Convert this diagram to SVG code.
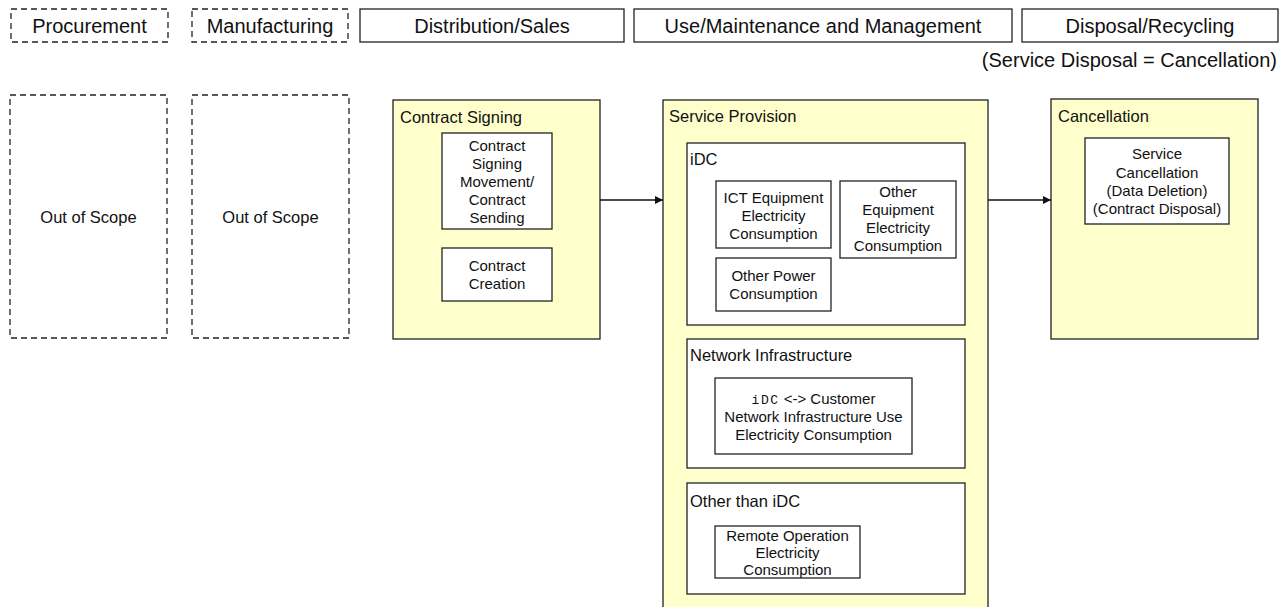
<svg xmlns="http://www.w3.org/2000/svg" width="1280" height="607" viewBox="0 0 1280 607">
  <style>
    text { font-family: "Liberation Sans", Arial, sans-serif; fill: #111; }
    .hdr { font-size: 20px; text-anchor: middle; }
    .lbl { font-size: 16.5px; }
    .oos { font-size: 16.5px; text-anchor: middle; }
    .in { font-size: 15px; text-anchor: middle; }
    .mono { font-family: "Liberation Mono", "DejaVu Sans Mono", monospace; font-size: 13px; letter-spacing: 1.5px; }
    .dash { fill: #fff; stroke: #222; stroke-width: 1.3; stroke-dasharray: 6 4; }
    .box { fill: #fff; stroke: #222; stroke-width: 1.3; }
    .stage { fill: #ffffcc; stroke: #222; stroke-width: 1.3; }
    .conn { stroke: #111; stroke-width: 1.3; fill: none; marker-end: url(#arrow); }
  </style>
  <defs>
    <marker id="arrow" viewBox="0 0 10 10" refX="10" refY="5" markerWidth="8" markerHeight="8" markerUnits="userSpaceOnUse" orient="auto">
      <path d="M0,0 L10,5 L0,10 z" fill="#111"/>
    </marker>
  </defs>
  <rect width="1280" height="607" fill="#fff"/>

  <!-- Life-cycle stage headers -->
  <g id="hdr-procurement">
    <rect class="dash" x="11" y="9" width="157" height="33"/>
    <text class="hdr" x="89.5" y="33">Procurement</text>
  </g>
  <g id="hdr-manufacturing">
    <rect class="dash" x="192" y="9" width="156" height="33"/>
    <text class="hdr" x="270" y="33">Manufacturing</text>
  </g>
  <g id="hdr-distribution">
    <rect class="box" x="360" y="9" width="264" height="33"/>
    <text class="hdr" x="492" y="33">Distribution/Sales</text>
  </g>
  <g id="hdr-use">
    <rect class="box" x="634" y="9" width="378" height="33"/>
    <text class="hdr" x="823" y="33">Use/Maintenance and Management</text>
  </g>
  <g id="hdr-disposal">
    <rect class="box" x="1022" y="9" width="256" height="33"/>
    <text class="hdr" x="1150" y="33">Disposal/Recycling</text>
  </g>
  <text class="hdr" x="1277" y="67" style="text-anchor:end">(Service Disposal = Cancellation)</text>

  <!-- Out of scope columns -->
  <g id="oos-procurement">
    <rect class="dash" x="10" y="95" width="157" height="243"/>
    <text class="oos" x="88.5" y="223">Out of Scope</text>
  </g>
  <g id="oos-manufacturing">
    <rect class="dash" x="192" y="95" width="157" height="243"/>
    <text class="oos" x="270.5" y="223">Out of Scope</text>
  </g>

  <!-- Contract signing -->
  <g id="contract-signing">
    <rect class="stage" x="393" y="100" width="207" height="239"/>
    <text class="lbl" x="400" y="123">Contract Signing</text>
    <g id="contract-sending">
      <rect class="box" x="442" y="133" width="110" height="96"/>
      <text class="in" x="497" y="151">Contract</text>
      <text class="in" x="497" y="169">Signing</text>
      <text class="in" x="497" y="187">Movement/</text>
      <text class="in" x="497" y="205">Contract</text>
      <text class="in" x="497" y="223">Sending</text>
    </g>
    <g id="contract-creation">
      <rect class="box" x="442" y="248" width="110" height="53"/>
      <text class="in" x="497" y="271">Contract</text>
      <text class="in" x="497" y="289">Creation</text>
    </g>
  </g>

  <!-- Service provision -->
  <g id="service-provision">
    <rect class="stage" x="663" y="100" width="325" height="520"/>
    <text class="lbl" x="669" y="122">Service Provision</text>

    <g id="idc">
      <rect class="box" x="687" y="143" width="278" height="182"/>
      <text class="lbl" x="690" y="165">iDC</text>
      <g id="ict-power">
        <rect class="box" x="716" y="181" width="115" height="67"/>
        <text class="in" x="773.5" y="203">ICT Equipment</text>
        <text class="in" x="773.5" y="221">Electricity</text>
        <text class="in" x="773.5" y="239">Consumption</text>
      </g>
      <g id="other-equipment-power">
        <rect class="box" x="840" y="181" width="116" height="77"/>
        <text class="in" x="898" y="197">Other</text>
        <text class="in" x="898" y="215">Equipment</text>
        <text class="in" x="898" y="233">Electricity</text>
        <text class="in" x="898" y="251">Consumption</text>
      </g>
      <g id="other-power">
        <rect class="box" x="716" y="258" width="115" height="53"/>
        <text class="in" x="773.5" y="281">Other Power</text>
        <text class="in" x="773.5" y="299">Consumption</text>
      </g>
    </g>

    <g id="network">
      <rect class="box" x="687" y="339" width="278" height="129"/>
      <text class="lbl" x="690" y="361">Network Infrastructure</text>
      <g id="network-power">
        <rect class="box" x="715" y="378" width="197" height="76"/>
        <text class="in" x="813.5" y="404"><tspan class="mono">iDC</tspan> &lt;-&gt; Customer</text>
        <text class="in" x="813.5" y="422">Network Infrastructure Use</text>
        <text class="in" x="813.5" y="440">Electricity Consumption</text>
      </g>
    </g>

    <g id="non-idc">
      <rect class="box" x="687" y="483" width="278" height="111"/>
      <text class="lbl" x="690" y="507">Other than iDC</text>
      <g id="remote-power">
        <rect class="box" x="715" y="526" width="145" height="52"/>
        <text class="in" x="787.5" y="541">Remote Operation</text>
        <text class="in" x="787.5" y="558">Electricity</text>
        <text class="in" x="787.5" y="574.5">Consumption</text>
      </g>
    </g>
  </g>

  <!-- Cancellation -->
  <g id="cancellation">
    <rect class="stage" x="1051" y="99" width="207" height="240"/>
    <text class="lbl" x="1058" y="122">Cancellation</text>
    <g id="service-cancellation">
      <rect class="box" x="1085" y="138" width="144" height="86"/>
      <text class="in" x="1157" y="159">Service</text>
      <text class="in" x="1157" y="177.5">Cancellation</text>
      <text class="in" x="1157" y="196">(Data Deletion)</text>
      <text class="in" x="1157" y="214">(Contract Disposal)</text>
    </g>
  </g>

  <!-- Flow between stages -->
  <g id="connectors">
    <line class="conn" x1="600" y1="200" x2="663" y2="200"/>
    <line class="conn" x1="988" y1="200" x2="1051" y2="200"/>
  </g>
</svg>
